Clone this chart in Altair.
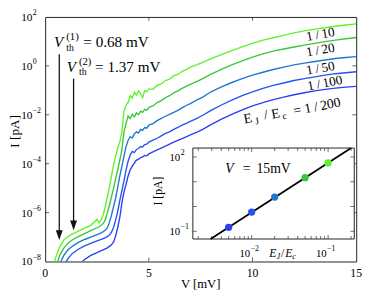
import altair as alt
import pandas as pd

FONT = "Liberation Serif"

# ---------------- data ----------------
V = [0.3, 0.5, 0.7, 0.9, 1.1, 1.3, 1.6, 1.9, 2.2, 2.5,
     2.6, 2.7, 2.8, 2.9, 3.0, 3.1, 3.2, 3.3, 3.4, 3.5,
     3.6, 3.7, 3.8, 3.9, 4.0, 4.1, 4.2, 4.3, 4.4, 4.5,
     4.6, 4.7, 4.8, 4.9, 5.0, 5.2, 5.4, 5.6, 5.8, 6.0,
     6.2, 6.4, 6.6, 6.8, 7.0, 7.3, 7.6, 8.0, 8.5, 9.0,
     9.5, 10.0, 10.5, 11.0, 11.5, 12.0, 12.5, 13.0, 13.5, 14.0,
     14.5, 15.0]

# log10(I [pA]) for each curve
logI_1_10 = [-8.6, -7.85, -7.4, -7.12, -6.98, -6.88, -6.76, -6.64, -6.52, -6.28,
             -6.42, -6.3, -6.1, -5.75, -5.35, -4.95, -4.5, -4.05, -3.7, -3.35,
             -3.1, -2.7, -1.85, -1.6, -1.5, -1.22, -1.32, -1.08, -1.2, -1.02,
             -1.12, -1.3, -1.02, -1.06, -0.94, -0.96, -0.8, -0.74, -0.6, -0.54,
             -0.4, -0.35, -0.22, -0.15, -0.05, 0.04, 0.14, 0.3, 0.46, 0.62,
             0.78, 0.92, 1.05, 1.15, 1.25, 1.35, 1.43, 1.5, 1.56, 1.62,
             1.67, 1.72]
logI_1_20 = [-9.0, -8.3, -7.75, -7.45, -7.25, -7.12, -6.98, -6.86, -6.74, -6.62,
             -6.58, -6.52, -6.45, -6.3, -6.0, -5.7, -5.35, -5.0, -4.6, -4.25,
             -3.85, -3.45, -2.7, -2.35, -2.05, -2.15, -1.98, -2.08, -1.92, -2.0,
             -1.85, -1.9, -1.78, -1.82, -1.7, -1.64, -1.5, -1.42, -1.3, -1.22,
             -1.1, -1.02, -0.92, -0.84, -0.76, -0.64, -0.52, -0.34, -0.14, 0.04,
             0.2, 0.36, 0.49, 0.6, 0.69, 0.77, 0.85, 0.92, 0.99, 1.05,
             1.11, 1.16]
logI_1_50 = [-9.4, -8.7, -8.1, -7.75, -7.52, -7.38, -7.22, -7.1, -7.0, -6.9,
             -6.87, -6.83, -6.78, -6.72, -6.62, -6.4, -6.1, -5.75, -5.4, -4.95,
             -4.5, -4.1, -3.7, -3.3, -3.05, -2.9, -2.95, -2.78, -2.7, -2.75,
             -2.6, -2.64, -2.52, -2.55, -2.42, -2.36, -2.24, -2.15, -2.06, -1.98,
             -1.9, -1.82, -1.72, -1.62, -1.54, -1.4, -1.28, -1.06, -0.86, -0.68,
             -0.52, -0.38, -0.26, -0.15, -0.05, 0.04, 0.11, 0.18, 0.24, 0.3,
             0.34, 0.38]
logI_1_100 = [-10.0, -9.4, -8.8, -8.15, -7.88, -7.68, -7.5, -7.36, -7.26, -7.16,
              -7.13, -7.1, -7.06, -7.02, -6.98, -6.92, -6.8, -6.6, -6.3, -5.95,
              -5.5, -5.1, -4.7, -4.25, -3.9, -3.65, -3.5, -3.55, -3.42, -3.38,
              -3.3, -3.32, -3.22, -3.2, -3.12, -3.04, -2.96, -2.86, -2.76, -2.7,
              -2.6, -2.52, -2.42, -2.35, -2.27, -2.16, -2.02, -1.82, -1.6, -1.4,
              -1.22, -1.06, -0.92, -0.8, -0.7, -0.6, -0.52, -0.45, -0.38, -0.32,
              -0.28, -0.24]
logI_1_200 = [-10.5, -10.0, -9.5, -9.1, -8.8, -8.55, -8.15, -7.92, -7.75, -7.64,
              -7.6, -7.56, -7.52, -7.48, -7.44, -7.38, -7.32, -7.2, -6.95, -6.6,
              -6.2, -5.6, -5.15, -4.85, -4.5, -4.25, -4.1, -3.98, -3.85, -3.82,
              -3.75, -3.72, -3.66, -3.68, -3.6, -3.52, -3.44, -3.36, -3.28, -3.2,
              -3.12, -3.05, -2.98, -2.9, -2.82, -2.72, -2.6, -2.4, -2.18, -1.98,
              -1.8, -1.64, -1.5, -1.38, -1.28, -1.18, -1.1, -1.02, -0.96, -0.91,
              -0.87, -0.84]

ratios = ["1/10", "1/20", "1/50", "1/100", "1/200"]
curve_colors = ["#62f22a", "#3cc63c", "#1f78d0", "#2552f5", "#2a3ff0"]

y_exponents = [2, 0, -2, -4, -6, -8]
x_ticks = [0, 5, 10, 15]

vth_values = [0.68, 1.37]

inset_ej = [0.005, 0.01, 0.02, 0.05, 0.1]
inset_I = [0.145, 0.6, 2.4, 14.5, 57.5]
fit_ej = [0.0029, 0.2]
fit_I = [0.049, 229.0]

# ---------------- tables ----------------
rows = []
for lab, arr in zip(ratios, [logI_1_10, logI_1_20, logI_1_50, logI_1_100, logI_1_200]):
    for v, e in zip(V, arr):
        rows.append({"V": v, "I": 10.0 ** e, "ratio": lab})
curve_df = pd.DataFrame(rows)

ylab_df = pd.DataFrame({"I": [10.0 ** e for e in y_exponents],
                        "sup": [str(e).replace("-", "\u2212") for e in y_exponents]})
xlab_df = pd.DataFrame({"V": x_ticks, "lab": [str(t) for t in x_ticks]})

one = pd.DataFrame({"a": [0]})

xs = alt.Scale(domain=[0, 15], nice=False, zero=False)
ys = alt.Scale(type="log", domain=[1e-8, 1e2], nice=False)
cscale = alt.Scale(domain=ratios, range=curve_colors)


def txt(x, y, s, size, italic=False, align="left", baseline="alphabetic", angle=0):
    return alt.Chart(one).mark_text(
        font=FONT, fontSize=size, fontStyle="italic" if italic else "normal",
        align=align, baseline=baseline, angle=angle, color="#000"
    ).encode(x=alt.value(x), y=alt.value(y), text=alt.value(s))


# ---------------- main panel ----------------
curves = alt.Chart(curve_df).mark_line(strokeWidth=1.4, clip=True).encode(
    x=alt.X("V:Q", scale=xs, axis=None),
    y=alt.Y("I:Q", scale=ys, axis=None),
    color=alt.Color("ratio:N", scale=cscale, legend=None),
)

ylab10 = alt.Chart(ylab_df).mark_text(
    font=FONT, fontSize=11.5, align="left", baseline="middle", color="#000", dy=1
).encode(x=alt.value(-24.5), y=alt.Y("I:Q", scale=ys, axis=None), text=alt.value("10"))
ylabsup = alt.Chart(ylab_df).mark_text(
    font=FONT, fontSize=8, align="left", baseline="middle", color="#000", dy=-4
).encode(x=alt.value(-12.8), y=alt.Y("I:Q", scale=ys, axis=None), text="sup:N")
xlab = alt.Chart(xlab_df).mark_text(
    font=FONT, fontSize=12, align="center", baseline="middle", color="#000"
).encode(x=alt.X("V:Q", scale=xs, axis=None), y=alt.value(262), text="lab:N")

tx_df = pd.DataFrame({"V": [5, 10]})
ty_df = pd.DataFrame({"I": [1e0, 1e-2, 1e-4, 1e-6]})
tick_b = alt.Chart(tx_df).mark_tick(orient="vertical", size=4, thickness=1, color="#222").encode(
    x=alt.X("V:Q", scale=xs, axis=None), y=alt.value(248))
tick_t = alt.Chart(tx_df).mark_tick(orient="vertical", size=4, thickness=1, color="#222").encode(
    x=alt.X("V:Q", scale=xs, axis=None), y=alt.value(2))
tick_l = alt.Chart(ty_df).mark_tick(orient="horizontal", size=4, thickness=1, color="#222").encode(
    y=alt.Y("I:Q", scale=ys, axis=None), x=alt.value(2))
tick_r = alt.Chart(ty_df).mark_tick(orient="horizontal", size=4, thickness=1, color="#222").encode(
    y=alt.Y("I:Q", scale=ys, axis=None), x=alt.value(316))

arrow_df = pd.DataFrame({"V": vth_values,
                         "top": [3.0, 0.30],
                         "tip": [7.6e-8, 1.9e-7]})
arrow_df["end"] = arrow_df["tip"] * 10 ** 0.3
arrow_line = alt.Chart(arrow_df).mark_rule(strokeWidth=1.3, color="#111").encode(
    x=alt.X("V:Q", scale=xs, axis=None),
    y=alt.Y("top:Q", scale=ys, axis=None), y2="end:Q")
arrow_head = alt.Chart(arrow_df).mark_point(
    shape="M-0.35,-1L0.35,-1L0,0Z", size=400, filled=True, color="#111",
    opacity=1, strokeWidth=0
).encode(x=alt.X("V:Q", scale=xs, axis=None), y=alt.Y("tip:Q", scale=ys, axis=None))

TS = "\u2009"  # thin space
annotations = [
    txt(159, 273.5, "V  [mV]", 13, align="center", baseline="middle"),
    txt(-31, 117, "I  [pA]", 13.5, align="center", baseline="middle", angle=270),
    txt(9, 31, "V", 15.5, italic=True),
    txt(21.5, 24, "(1)", 11),
    txt(21.5, 34.5, "th", 10),
    txt(39, 31, "=  0.68  mV", 15.5),
    txt(22, 56, "V", 15.5, italic=True),
    txt(34.5, 49, "(2)", 11),
    txt(34.5, 59.5, "th", 10),
    txt(51, 56, "=  1.37  mV", 15.5),
    txt(281.5, 18, "1" + TS + "/" + TS + "10", 13.5, align="center", baseline="middle", angle=350),
    txt(281.5, 34, "1" + TS + "/" + TS + "20", 13.5, align="center", baseline="middle", angle=350),
    txt(281.5, 52.7, "1" + TS + "/" + TS + "50", 13.5, align="center", baseline="middle", angle=350),
    txt(286, 67.7, "1" + TS + "/" + TS + "100", 13.5, align="center", baseline="middle", angle=349),
    txt(207.3, 104.3, "E", 14, align="center", baseline="middle", angle=349),
    txt(216.5, 106.5, "J", 10, align="center", baseline="middle", angle=349),
    txt(225.7, 100.2, "/", 14, align="center", baseline="middle", angle=349),
    txt(235.7, 99.3, "E", 14, align="center", baseline="middle", angle=349),
    txt(244.8, 101.5, "c", 10, align="center", baseline="middle", angle=349),
    txt(278, 92, "= 1" + TS + "/" + TS + "200", 14, align="center", baseline="middle", angle=349),
]

main_layers = [curves, tick_b, tick_t, tick_l, tick_r, ylab10, ylabsup, xlab,
               arrow_line, arrow_head] + annotations

# ---------------- inset ----------------
ixs = alt.Scale(type="log", domain=[0.0017, 0.22], range=[151, 316], nice=False)
iys = alt.Scale(type="log", domain=[0.049, 229.0], range=[227, 134], nice=False)

inset_bg = alt.Chart(one).mark_rect(fill="white", stroke="#222", strokeWidth=1).encode(
    x=alt.value(151), x2=alt.value(316), y=alt.value(134), y2=alt.value(227))

fit_df = pd.DataFrame({"ej": fit_ej, "I": fit_I})
fit_line = alt.Chart(fit_df).mark_line(color="#000", strokeWidth=1.8).encode(
    x=alt.X("ej:Q", scale=ixs, axis=None), y=alt.Y("I:Q", scale=iys, axis=None))

pts_df = pd.DataFrame({"ej": inset_ej, "I": inset_I, "ratio": ratios[::-1]})
pts = alt.Chart(pts_df).mark_circle(size=55, opacity=1).encode(
    x=alt.X("ej:Q", scale=ixs, axis=None), y=alt.Y("I:Q", scale=iys, axis=None),
    color=alt.Color("ratio:N", scale=cscale, legend=None))

ix_major = pd.DataFrame({"ej": [0.01, 0.1]})
ix_minor = pd.DataFrame({"ej": [0.002, 0.003, 0.004, 0.005, 0.006, 0.007, 0.008, 0.009,
                                0.02, 0.03, 0.04, 0.05, 0.06, 0.07, 0.08, 0.09, 0.2]})
iy_major = pd.DataFrame({"I": [0.1, 1.0, 10.0, 100.0]})


def itick_x(df, y, size):
    return alt.Chart(df).mark_tick(orient="vertical", size=size, thickness=1, color="#333").encode(
        x=alt.X("ej:Q", scale=ixs, axis=None), y=alt.value(y))


def itick_y(df, x, size):
    return alt.Chart(df).mark_tick(orient="horizontal", size=size, thickness=1, color="#333").encode(
        y=alt.Y("I:Q", scale=iys, axis=None), x=alt.value(x))


inset_ticks = [
    itick_x(ix_major, 136, 4), itick_x(ix_minor, 135.5, 3),
    itick_x(ix_major, 225, 4), itick_x(ix_minor, 225.5, 3),
    itick_y(iy_major, 153, 4), itick_y(iy_major, 314, 4),
]

ixlab_df = pd.DataFrame({"ej": [0.01, 0.1], "sup": ["\u22122", "\u22121"]})
ixlab10 = alt.Chart(ixlab_df).mark_text(
    font=FONT, fontSize=11, align="right", baseline="middle", color="#000", dx=-1.5
).encode(x=alt.X("ej:Q", scale=ixs, axis=None), y=alt.value(242), text=alt.value("10"))
ixlabsup = alt.Chart(ixlab_df).mark_text(
    font=FONT, fontSize=8, align="left", baseline="middle", color="#000", dx=-1, dy=-5
).encode(x=alt.X("ej:Q", scale=ixs, axis=None), y=alt.value(242), text="sup:N")

iylab_df = pd.DataFrame({"I": [100.0, 0.1], "sup": ["2", "\u22121"]})
iylab10 = alt.Chart(iylab_df).mark_text(
    font=FONT, fontSize=11, align="left", baseline="middle", color="#000", dy=1
).encode(x=alt.value(127), y=alt.Y("I:Q", scale=iys, axis=None), text=alt.value("10"))
iylabsup = alt.Chart(iylab_df).mark_text(
    font=FONT, fontSize=8, align="left", baseline="middle", color="#000", dy=-4
).encode(x=alt.value(138.5), y=alt.Y("I:Q", scale=iys, axis=None), text="sup:N")

inset_text = [
    txt(229, 241, "E", 12, italic=True, baseline="middle"),
    txt(236.5, 244, "J", 8.5, italic=True, baseline="middle"),
    txt(241, 241, "/", 12, baseline="middle"),
    txt(245.5, 241, "E", 12, italic=True, baseline="middle"),
    txt(252.5, 244, "c", 8.5, italic=True, baseline="middle"),
    txt(115, 178, "I  [pA]", 12, align="center", baseline="middle", angle=270),
    txt(184, 156, "V", 14, italic=True, baseline="middle"),
    txt(202, 156, "=", 14, baseline="middle"),
    txt(216, 156, "15mV", 14, baseline="middle"),
]

inset = alt.layer(inset_bg, *inset_ticks, fit_line, pts, ixlab10, ixlabsup,
                  iylab10, iylabsup, *inset_text)

chart = alt.layer(alt.layer(*main_layers), inset).resolve_scale(
    x="independent", y="independent"
).properties(
    width=318, height=250,
    autosize=alt.AutoSizeParams(type="none"),
    padding={"left": 38, "top": 6, "right": 10, "bottom": 27},
).configure_view(stroke="#222", strokeWidth=1)

chart.save("out.html", embed_options={"renderer": "svg", "actions": False})
